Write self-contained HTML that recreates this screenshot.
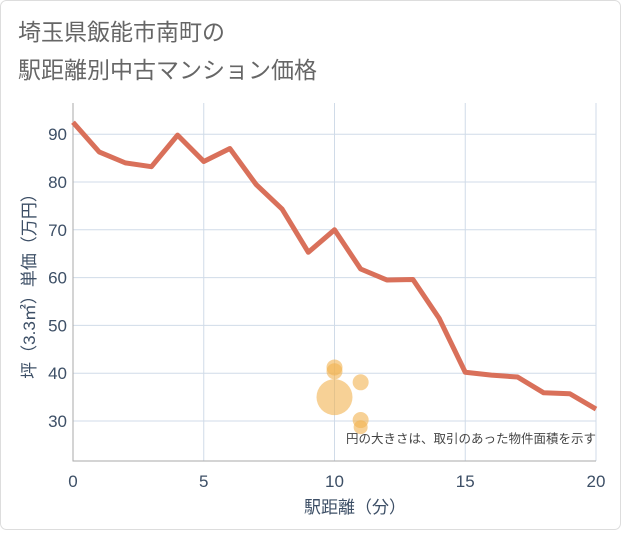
<!DOCTYPE html>
<html><head><meta charset="utf-8"><style>
body{margin:0;background:#fff;font-family:"Liberation Sans","Noto Sans CJK JP",sans-serif;}
#wrap{position:relative;width:621px;height:530px;}
</style></head><body>
<div id="wrap">
<svg id="chart" width="621" height="530" xmlns="http://www.w3.org/2000/svg">
<rect x="0.5" y="0.5" width="620" height="529" rx="6" fill="#fff" stroke="#ddd"/>
<text x="18" y="40" font-size="23" fill="#666">埼玉県飯能市南町の</text>
<text x="18" y="78" font-size="23" fill="#666">駅距離別中古マンション価格</text>
<g id="grid"></g>
<g id="marks"></g>
<text x="596" y="443" font-size="12.5" fill="#444" text-anchor="end">円の大きさは、取引のあった物件面積を示す</text>
<text x="355" y="513" font-size="17" fill="#3d4f66" text-anchor="middle">駅距離（分）</text>
<text transform="translate(35,282) rotate(-90)" font-size="17" fill="#3d4f66" text-anchor="middle">坪（3.3㎡）単価（万円）</text>
</svg>
</div>
<script>
const lineX=[0,1,2,3,4,5,6,7,8,9,10,11,12,13,14,15,16,17,18,19,20];
const lineY=[92.5,86.3,84,83.2,89.8,84.3,87,79.5,74.3,65.3,70,61.8,59.5,59.6,51.5,40.2,39.6,39.2,35.9,35.7,32.5];
const bubX=[10,10,10,11,11,11];
const bubY=[41.2,40.4,35,38.1,30.2,28.7];
const bubR=[8,8,18,8,8,7];
const xTicks=[0,5,10,15,20];
const yTicks=[30,40,50,60,70,80,90];
const L=73,R=596,T=103,B=461;
const sx=v=>L+(v-0)/20*(R-L);
const sy=v=>421-(v-30)*4.78;
const NS="http://www.w3.org/2000/svg";
const grid=document.getElementById('grid'),marks=document.getElementById('marks');
function mk(tag,attrs,parent){const e=document.createElementNS(NS,tag);for(const k in attrs)e.setAttribute(k,attrs[k]);parent.appendChild(e);return e;}
xTicks.forEach(t=>{
 const l=mk('line',{x1:sx(t),x2:sx(t),y1:T,y2:B,stroke:'#d0dbe8'},grid);
 
 
 const tx=mk('text',{x:sx(t),y:487,'font-size':17,fill:'#3d4f66','text-anchor':'middle'},grid);
 tx.textContent=t;
 
 
});
yTicks.forEach(t=>{
 const l=mk('line',{x1:L,x2:R,y1:sy(t),y2:sy(t),stroke:'#d0dbe8'},grid);
 
 
 const tx=mk('text',{x:67,y:sy(t)+6,'font-size':17,fill:'#3d4f66','text-anchor':'end'},grid);
 tx.textContent=t;
 
 
});
const ax=mk('path',{d:`M${L} ${T}V${B}H${R}`,fill:'none',stroke:'#aaa'},grid);


bubX.forEach((x,i)=>{
 const c=mk('circle',{cx:sx(x),cy:sy(bubY[i]),r:bubR[i],fill:'rgba(242,178,80,0.6)'},marks);
 
 
});
const p=mk('polyline',{points:lineX.map((x,i)=>sx(x)+','+sy(lineY[i])).join(' '),fill:'none',stroke:'#d9705a','stroke-width':5,'stroke-linejoin':'round'},marks);


</script>
</body></html>
